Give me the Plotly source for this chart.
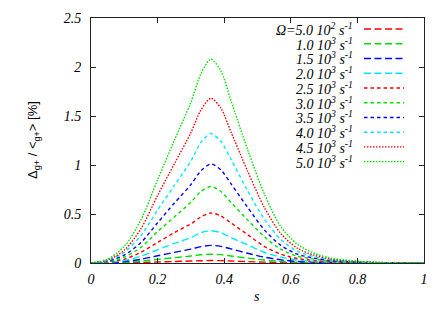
import plotly.graph_objects as go

# ---- data ----
s = [0, 0.05, 0.1, 0.15, 0.2, 0.25, 0.3, 0.33, 0.36, 0.39, 0.42, 0.47, 0.52, 0.57, 0.62, 0.67, 0.72, 0.78, 0.85, 0.92, 1.0]

omega_labels = [
    "Ω=5.0 10<sup>2</sup> s<sup>-1</sup>",
    "1.0 10<sup>3</sup> s<sup>-1</sup>",
    "1.5 10<sup>3</sup> s<sup>-1</sup>",
    "2.0 10<sup>3</sup> s<sup>-1</sup>",
    "2.5 10<sup>3</sup> s<sup>-1</sup>",
    "3.0 10<sup>3</sup> s<sup>-1</sup>",
    "3.5 10<sup>3</sup> s<sup>-1</sup>",
    "4.0 10<sup>3</sup> s<sup>-1</sup>",
    "4.5 10<sup>3</sup> s<sup>-1</sup>",
    "5.0 10<sup>3</sup> s<sup>-1</sup>",
]

w_0500 = [0, 0.001, 0.002, 0.005, 0.01, 0.015, 0.02, 0.023, 0.025, 0.024, 0.02, 0.014, 0.009, 0.005, 0.002, 0.001, 0.001, 0, 0, 0, 0]
w_1000 = [0, 0.002, 0.007, 0.019, 0.037, 0.054, 0.071, 0.084, 0.09, 0.085, 0.072, 0.05, 0.03, 0.016, 0.008, 0.005, 0.002, 0.001, 0, 0, 0]
w_1500 = [0, 0.004, 0.014, 0.038, 0.074, 0.108, 0.142, 0.167, 0.18, 0.17, 0.144, 0.10, 0.06, 0.032, 0.016, 0.009, 0.005, 0.002, 0.001, 0, 0]
w_2000 = [0, 0.007, 0.026, 0.07, 0.135, 0.20, 0.26, 0.31, 0.33, 0.31, 0.26, 0.185, 0.11, 0.06, 0.03, 0.017, 0.008, 0.004, 0.001, 0, 0]
w_2500 = [0, 0.01, 0.04, 0.11, 0.21, 0.31, 0.40, 0.47, 0.51, 0.48, 0.41, 0.29, 0.17, 0.09, 0.046, 0.026, 0.013, 0.006, 0.002, 0.001, 0]
w_3000 = [0, 0.016, 0.06, 0.16, 0.32, 0.47, 0.62, 0.73, 0.78, 0.73, 0.62, 0.44, 0.27, 0.14, 0.07, 0.04, 0.02, 0.009, 0.003, 0.001, 0]
w_3500 = [0, 0.02, 0.08, 0.21, 0.41, 0.61, 0.80, 0.94, 1.01, 0.95, 0.81, 0.57, 0.34, 0.18, 0.09, 0.05, 0.025, 0.012, 0.004, 0.001, 0]
w_4000 = [0, 0.026, 0.11, 0.28, 0.54, 0.79, 1.04, 1.23, 1.32, 1.24, 1.06, 0.74, 0.45, 0.24, 0.12, 0.066, 0.033, 0.016, 0.005, 0.001, 0]
w_4500 = [0, 0.03, 0.13, 0.35, 0.69, 1.01, 1.33, 1.56, 1.68, 1.58, 1.34, 0.94, 0.57, 0.30, 0.15, 0.08, 0.04, 0.02, 0.007, 0.002, 0]
w_5000 = [0, 0.04, 0.17, 0.44, 0.85, 1.25, 1.64, 1.93, 2.08, 1.96, 1.66, 1.16, 0.71, 0.37, 0.19, 0.10, 0.05, 0.025, 0.008, 0.002, 0]

series = [w_0500, w_1000, w_1500, w_2000, w_2500, w_3000, w_3500, w_4000, w_4500, w_5000]

x_ticks = [0, 0.2, 0.4, 0.6, 0.8, 1]
x_tick_text = ["0", "0.2", "0.4", "0.6", "0.8", "1"]
y_ticks = [0, 0.5, 1, 1.5, 2, 2.5]
y_tick_text = ["0", "0.5", "1", "1.5", "2", "2.5"]

# ---- styles ----
colors = ["#ff0000", "#00e000", "#0000ff", "#00e8ff"] * 3
dashes = ["7px,3.5px"] * 4 + ["3.5px,3px"] * 4 + ["1.5px,1.5px"] * 2

# the page body adds an 8px offset, so the figure is 8px smaller
OFF = 8
W, H = 444 - OFF, 311 - OFF
ML, MT = 91 - OFF, 18 - OFF
PW, PH = 333, 245
MR, MB = W - ML - PW, H - MT - PH


def px_x(xpx):  # reference page x-pixel -> paper fraction
    return (xpx - OFF - ML) / PW


def px_y(ypx):  # reference page y-pixel -> paper fraction
    return (MT + PH - (ypx - OFF)) / PH


fig = go.Figure()
for i, ys in enumerate(series):
    fig.add_trace(go.Scatter(
        x=s, y=ys, mode="lines",
        line=dict(color=colors[i], width=1.4, dash=dashes[i], shape="spline", smoothing=0.8),
        showlegend=False, hoverinfo="skip",
    ))

# manual legend (text right-aligned, sample to the right)
serif_it = dict(family="Liberation Serif", size=14, color="black")
row0_px, row_step = 29, 14.74
for i, lab in enumerate(omega_labels):
    yp = px_y(row0_px + i * row_step)
    fig.add_annotation(
        x=px_x(355), y=yp, xref="paper", yref="paper",
        text="<i>" + lab + "</i>", showarrow=False,
        xanchor="right", yanchor="middle", font=serif_it,
    )
    fig.add_shape(
        type="line", xref="paper", yref="paper",
        x0=px_x(364), x1=px_x(404), y0=yp, y1=yp,
        line=dict(color=colors[i], width=1.4, dash=dashes[i]),
    )

# axis titles
fig.add_annotation(x=px_x(257), y=px_y(296), xref="paper", yref="paper",
                   text="<i>s</i>", showarrow=False, xanchor="center", yanchor="middle",
                   font=dict(family="Liberation Serif", size=14, color="black"))
fig.add_annotation(x=px_x(33), y=px_y(140), xref="paper", yref="paper",
                   text="Δ<sub>g+</sub> / &lt;<sub>g+</sub>&gt; [%]", textangle=-90,
                   showarrow=False, xanchor="center", yanchor="middle",
                   font=dict(family="Liberation Sans", size=13, color="black"))

axis_common = dict(
    showgrid=False, zeroline=False, showline=True, linecolor="#222222", linewidth=1,
    mirror="ticks", ticks="inside", ticklen=5, tickcolor="#222222", tickwidth=1,
    tickfont=dict(family="Liberation Serif", size=14, color="black"),
    automargin=False,
)

fig.update_layout(
    width=W, height=H,
    margin=dict(l=ML, r=MR, t=MT, b=MB, autoexpand=False),
    paper_bgcolor="white", plot_bgcolor="white",
    xaxis=dict(range=[0, 1], tickvals=x_ticks, ticktext=["<i>" + t + "</i>" for t in x_tick_text],
               ticklabelstandoff=3, **axis_common),
    yaxis=dict(range=[0, 2.5], tickvals=y_ticks, ticktext=["<i>" + t + "</i>" for t in y_tick_text],
               ticklabelstandoff=6, **axis_common),
    showlegend=False,
)

fig.write_html("out.html")
